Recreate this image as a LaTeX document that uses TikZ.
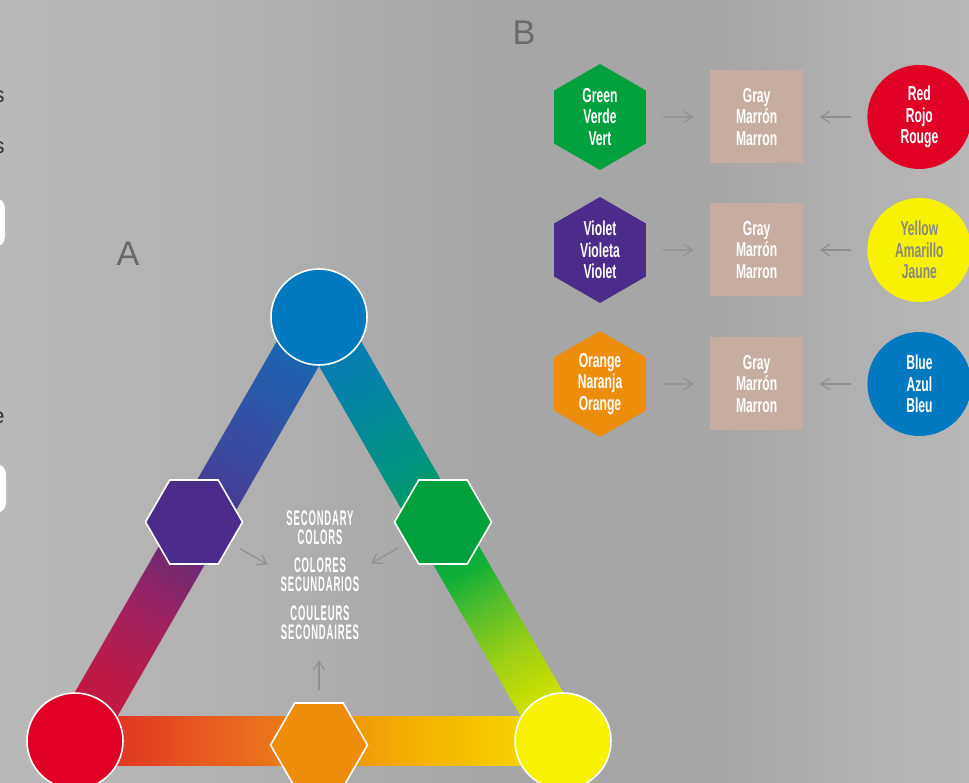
\documentclass[tikz,border=0pt]{standalone}
\usepackage{fontspec}
\setmainfont{Liberation Sans}
\newfontfamily\condfont[FakeStretch=0.6]{Liberation Sans}
\newfontfamily\capsfont[FakeStretch=0.45,LetterSpace=4]{Liberation Sans}
\usetikzlibrary{positioning,shapes.geometric,arrows.meta,backgrounds}

\newlength\px
\setlength\px{0.02cm}

\definecolor{pRed}{HTML}{E00025}
\definecolor{pBlue}{HTML}{0079C1}
\definecolor{pYellow}{HTML}{F8F200}
\definecolor{sGreen}{HTML}{00A03C}
\definecolor{sViolet}{HTML}{4C2C8A}
\definecolor{sOrange}{HTML}{EE8C0C}
\definecolor{mixTan}{HTML}{C5ADA1}
\definecolor{arrowGray}{HTML}{8F8F8F}
\definecolor{labelGray}{HTML}{6A6A6A}
\definecolor{yellowText}{HTML}{8A8A80}

\definecolor{bg1}{HTML}{B9B9B9}\definecolor{bg2}{HTML}{B1B1B1}
\definecolor{bg3}{HTML}{A6A6A6}\definecolor{bg4}{HTML}{B8B8B8}
\pgfdeclarehorizontalshading{bggray}{100bp}{color(0bp)=(bg1); color(25bp)=(bg1);
  color(37bp)=(bg2); color(50bp)=(bg3); color(62bp)=(bg3); color(75bp)=(bg4); color(100bp)=(bg4)}

\definecolor{lb1}{HTML}{C8103C}\definecolor{lb2}{HTML}{BE1A46}\definecolor{lb3}{HTML}{A02260}
\definecolor{lb4}{HTML}{722870}\definecolor{lb5}{HTML}{4C2C8A}\definecolor{lb6}{HTML}{40469C}
\definecolor{lb7}{HTML}{2C58A8}\definecolor{lb8}{HTML}{0C6CB8}
\pgfdeclarehorizontalshading{leftbar}{100bp}{color(0bp)=(lb1); color(25bp)=(lb1);
  color(32bp)=(lb2); color(40bp)=(lb3); color(46bp)=(lb4); color(50bp)=(lb5);
  color(57bp)=(lb6); color(65bp)=(lb7); color(75bp)=(lb8); color(100bp)=(lb8)}

\definecolor{rb1}{HTML}{0A76B8}\definecolor{rb2}{HTML}{0582A8}\definecolor{rb3}{HTML}{009284}
\definecolor{rb4}{HTML}{00A04A}\definecolor{rb5}{HTML}{10B038}\definecolor{rb6}{HTML}{60C028}
\definecolor{rb7}{HTML}{A0D014}\definecolor{rb8}{HTML}{CCE000}\definecolor{rb9}{HTML}{EEEC00}
\pgfdeclarehorizontalshading{rightbar}{100bp}{color(0bp)=(rb1); color(25bp)=(rb1);
  color(33bp)=(rb2); color(42bp)=(rb3); color(50bp)=(rb4); color(55bp)=(rb5);
  color(60bp)=(rb6); color(65bp)=(rb7); color(70bp)=(rb8); color(75bp)=(rb9); color(100bp)=(rb9)}

\definecolor{bb1}{HTML}{E2262A}\definecolor{bb2}{HTML}{E23A24}\definecolor{bb3}{HTML}{E65A20}
\definecolor{bb4}{HTML}{EA741A}\definecolor{bb5}{HTML}{EE8A0E}\definecolor{bb6}{HTML}{F2AA02}
\definecolor{bb7}{HTML}{F4C000}\definecolor{bb8}{HTML}{F6D000}\definecolor{bb9}{HTML}{F8DC00}
\pgfdeclarehorizontalshading{bottombar}{100bp}{color(0bp)=(bb1); color(25bp)=(bb1);
  color(30bp)=(bb2); color(38bp)=(bb3); color(45bp)=(bb4); color(50bp)=(bb5);
  color(58bp)=(bb6); color(65bp)=(bb7); color(70bp)=(bb8); color(75bp)=(bb9); color(100bp)=(bb9)}

\begin{document}
\begin{tikzpicture}[x=\px,y=-\px,
    gray arrow/.style={draw=arrowGray,line width=0.7pt,-{Straight Barb[length=5pt,width=6.5pt]}},
    panel label/.style={font=\fontsize{19.5}{20}\selectfont,text=labelGray,inner sep=0pt},
    cut text/.style={anchor=base east,inner sep=0pt,font=\fontsize{12.5}{14}\selectfont,text=black!80},
  ]
  \useasboundingbox (0,0) rectangle (969,783);
  \begin{scope}[on background layer]
    \shade[shading=bggray] (0,0) rectangle (969,783);
  \end{scope}

  % bits of the neighbouring panel, cut by the left edge
  \node[cut text] (cut-s1) at (5,103) {s};
  \node[cut text] (cut-s2) at (5,154) {s};
  \node[cut text] (cut-e)  at (5,423) {e};
  \fill[white,rounded corners=10\px] (-40,198) rectangle (5,247);
  \fill[white,rounded corners=10\px] (-40,464) rectangle (6,513);

  \node[panel label] (label-a) at (128,254) {A};
  \node[panel label] (label-b) at (524,33)  {B};

  \begin{scope}[
    primary circ/.style={
      circle,
      draw=white,
      line width=0.9pt,
      minimum size=96\px,
      inner sep=0pt,
    },
    secondary hex/.style={
      regular polygon,
      regular polygon sides=6,
      draw=white,
      line width=0.9pt,
      minimum size=97\px,
      inner sep=0pt,
    },
    ]
    \node[primary circ,fill=pBlue]   (blue-tri)   at (319,317) {};
    \node[primary circ,fill=pRed]    (red-tri)    at (75,741)  {};
    \node[primary circ,fill=pYellow] (yellow-tri) at (563,741) {};
    \node[secondary hex,fill=sViolet] (violet-tri) at (194,522) {};
    \node[secondary hex,fill=sGreen]  (green-tri)  at (443,522) {};
    \node[secondary hex,fill=sOrange] (orange-tri) at (319,745) {};
    \foreach \barstart/\barend/\barshade in
      {red-tri/blue-tri/leftbar,blue-tri/yellow-tri/rightbar,red-tri/yellow-tri/bottombar}{
      \pgfpointanchor{\barstart}{center}
      \pgfgetlastxy{\barx}{\bary}
      \pgfpointdiff{\pgfpointanchor{\barstart}{center}}{\pgfpointanchor{\barend}{center}}
      \pgfgetlastxy{\bardx}{\bardy}
      \pgfmathsetmacro\barlen{veclen(\bardx,\bardy)}
      \pgfmathsetmacro\barang{atan2(\bardy,\bardx)}
      \begin{scope}[on background layer]
        \begin{scope}[shift={(\barx,\bary)},rotate=\barang]
          \pgflowlevelsynccm
          \shade[shading=\barshade] (0pt,-13.9pt) rectangle (\barlen pt,13.9pt);
        \end{scope}
      \end{scope}
    }
    \node[align=center,text=white,inner sep=0pt,
          font=\capsfont\bfseries\fontsize{12}{11}\selectfont] (sec-text) at (320,575)
      {SECONDARY\\COLORS\\[5pt]COLORES\\SECUNDARIOS\\[5pt]COULEURS\\SECONDAIRES};
    \draw[gray arrow,shorten <=53\px] (violet-tri.center) -- ++(30:85);
    \draw[gray arrow,shorten <=52\px] (green-tri.center) -- ++(150:83);
    \draw[gray arrow,shorten <=12\px] (orange-tri.north) -- ++(0,-42);
  \end{scope}

  \begin{scope}[
    mix text/.style={
      align=center,
      inner sep=0pt,
      text=white,
      font=\condfont\bfseries\fontsize{11.5}{12.2}\selectfont,
    },
    mix hex/.style={
      mix text,
      regular polygon,
      regular polygon sides=6,
      shape border rotate=30,
      minimum size=106\px,
    },
    mix box/.style={
      mix text,
      fill=mixTan,
      minimum width=93\px,
      minimum height=93\px,
    },
    mix circ/.style={
      mix text,
      circle,
      minimum size=104\px,
    },
    node distance=63\px,
    every path/.style={gray arrow,shorten <=16\px,shorten >=16\px},
    ]
    \node[mix hex,fill=sGreen] (green-hex) at (600,117) {Green\\Verde\\Vert};
    \node[mix box,right=of green-hex] (green-box) {Gray\\Marrón\\Marron};
    \node[mix circ,fill=pRed,right=of green-box] (red-circ) {Red\\Rojo\\Rouge};
    \draw (green-hex) -- (green-box);
    \draw (red-circ) -- (green-box);

    \node[mix hex,fill=sViolet] (violet-hex) at (600,250) {Violet\\Violeta\\Violet};
    \node[mix box,right=of violet-hex] (violet-box) {Gray\\Marrón\\Marron};
    \node[mix circ,fill=pYellow,text=yellowText,right=of violet-box] (yellow-circ) {Yellow\\Amarillo\\Jaune};
    \draw (violet-hex) -- (violet-box);
    \draw (yellow-circ) -- (violet-box);

    \node[mix hex,fill=sOrange] (orange-hex) at (600,384) {Orange\\Naranja\\Orange};
    \node[mix box,right=of orange-hex] (orange-box) {Gray\\Marrón\\Marron};
    \node[mix circ,fill=pBlue,right=of orange-box] (blue-circ) {Blue\\Azul\\Bleu};
    \draw (orange-hex) -- (orange-box);
    \draw (blue-circ) -- (orange-box);
  \end{scope}
\end{tikzpicture}
\end{document}
